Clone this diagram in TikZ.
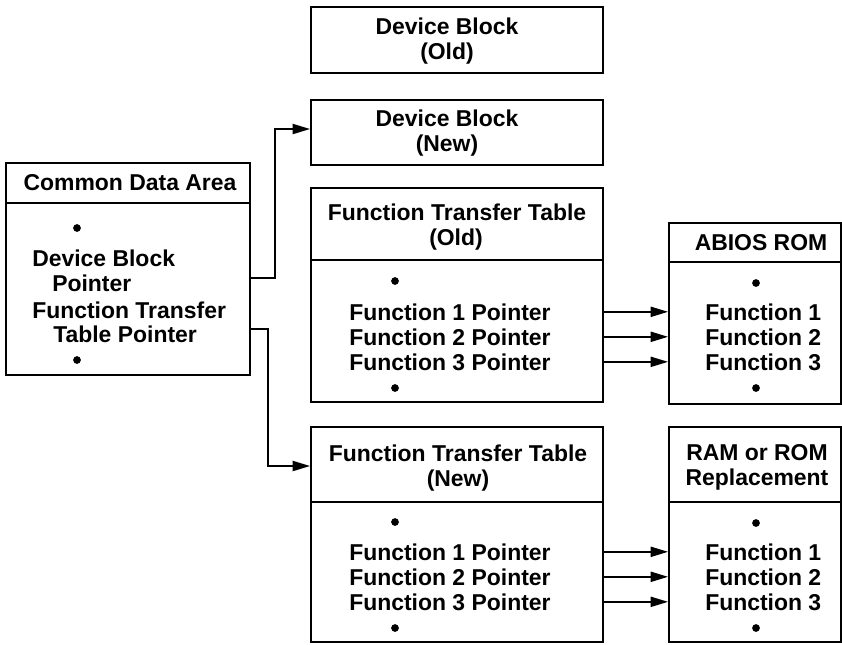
\documentclass[tikz,border=0pt]{standalone}
\usepackage{fontspec}
\setmainfont{Liberation Sans}
\usetikzlibrary{arrows.meta,fit}
\tikzset{
  box/.style={draw, line width=1.4pt, inner sep=0pt},
  txt/.style={font=\fontsize{17.2}{18.75}\selectfont\bfseries, inner sep=0pt, anchor=base},
  ltxt/.style={txt, anchor=base west},
  bulletdot/.style={circle, fill, inner sep=0pt, minimum size=5.8pt},
  ptr/.style={line width=1.4pt, -{Triangle[length=13pt,width=7.5pt]}},
  sepline/.style={line width=1.4pt},
}
\begin{document}
\begin{tikzpicture}[x=0.75pt,y=-0.75pt]
\useasboundingbox (0,0) rectangle (842,644);
\clip (0,0) rectangle (842,644);

% boxes
\node[box, fit={(6,163) (250,375)}] (cda) {};
\node[box, fit={(311,7) (603,73)}] (dbo) {};
\node[box, fit={(311,100) (603,165)}] (dbn) {};
\node[box, fit={(311,188) (603,402)}] (fto) {};
\node[box, fit={(669,223) (841,404)}] (abios) {};
\node[box, fit={(311,427) (603,642)}] (ftn) {};
\node[box, fit={(669,427) (841,642)}] (ram) {};

% header separators
\draw[sepline] (cda.west |- 0,203) -- (cda.east |- 0,203);
\draw[sepline] (fto.west |- 0,260) -- (fto.east |- 0,260);
\draw[sepline] (abios.west |- 0,262) -- (abios.east |- 0,262);
\draw[sepline] (ftn.west |- 0,502) -- (ftn.east |- 0,502);
\draw[sepline] (ram.west |- 0,502) -- (ram.east |- 0,502);

% Common Data Area
\node[txt] (cdah) at (130,190) {Common Data Area};
\node[bulletdot] (cdad1) at (77,228) {};
\node[ltxt] (cdal1) at (32,266) {Device Block};
\node[ltxt] (cdal2) at (52,291) {Pointer};
\node[ltxt] (cdal3) at (32,318) {Function Transfer};
\node[ltxt] (cdal4) at (53,342) {Table Pointer};
\node[bulletdot] (cdad2) at (77,360) {};

% Device blocks
\node[txt] (dboa) at (447,34) {Device Block};
\node[txt] (dbob) at (447,59) {(Old)};
\node[txt] (dbna) at (447,126) {Device Block};
\node[txt] (dbnb) at (447,151) {(New)};

% Function Transfer Table (Old)
\node[txt] (ftoa) at (457,220) {Function Transfer Table};
\node[txt] (ftob) at (456,245) {(Old)};
\node[bulletdot] (ftod1) at (395,281) {};
\node[ltxt] (f1o) at (349,320) {Function 1 Pointer};
\node[ltxt] (f2o) at (349,345) {Function 2 Pointer};
\node[ltxt] (f3o) at (349,370) {Function 3 Pointer};
\node[bulletdot] (ftod2) at (395,388) {};

% ABIOS ROM
\node[txt] (abiosh) at (761,250) {ABIOS ROM};
\node[bulletdot] (abd1) at (756,283) {};
\node[ltxt] (a1) at (705,320) {Function 1};
\node[ltxt] (a2) at (705,345) {Function 2};
\node[ltxt] (a3) at (705,370) {Function 3};
\node[bulletdot] (abd2) at (756,388) {};

% Function Transfer Table (New)
\node[txt] (ftna) at (458,461) {Function Transfer Table};
\node[txt] (ftnb) at (458,486) {(New)};
\node[bulletdot] (ftnd1) at (395,522) {};
\node[ltxt] (f1n) at (349,560) {Function 1 Pointer};
\node[ltxt] (f2n) at (349,585) {Function 2 Pointer};
\node[ltxt] (f3n) at (349,610) {Function 3 Pointer};
\node[bulletdot] (ftnd2) at (395,628) {};

% RAM or ROM Replacement
\node[txt] (rama) at (757,460) {RAM or ROM};
\node[txt] (ramb) at (757,485) {Replacement};
\node[bulletdot] (ramd1) at (756,523) {};
\node[ltxt] (r1) at (705,560) {Function 1};
\node[ltxt] (r2) at (705,585) {Function 2};
\node[ltxt] (r3) at (705,610) {Function 3};
\node[bulletdot] (ramd2) at (756,628) {};

% connectors
\coordinate (c1) at (275,278);
\coordinate (c2) at (268,329);
\draw[ptr] (cda.east |- c1) -- (c1) |- (dbn.west |- 0,129);
\draw[ptr] (cda.east |- c2) -- (c2) |- (ftn.west |- 0,466);

\draw[ptr] (fto.east |- f1o) -- (abios.west |- f1o);
\draw[ptr] (fto.east |- f2o) -- (abios.west |- f2o);
\draw[ptr] (fto.east |- f3o) -- (abios.west |- f3o);
\draw[ptr] (ftn.east |- f1n) -- (ram.west |- f1n);
\draw[ptr] (ftn.east |- f2n) -- (ram.west |- f2n);
\draw[ptr] (ftn.east |- f3n) -- (ram.west |- f3n);
\end{tikzpicture}
\end{document}
